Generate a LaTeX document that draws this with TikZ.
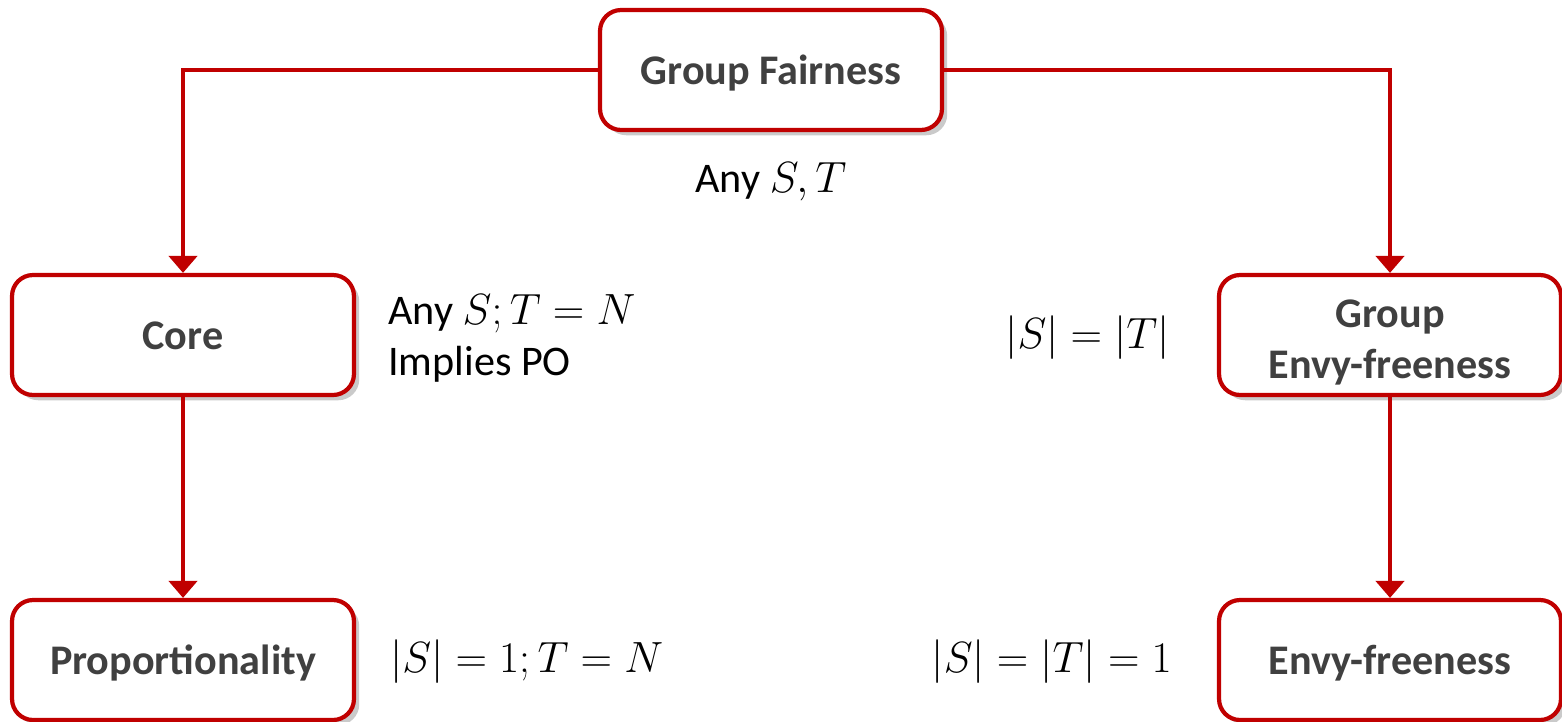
\documentclass[tikz,border=0pt]{standalone}
\usepackage{fontspec}
\setmainfont{Carlito}
\usetikzlibrary{arrows.meta,shadows}
\definecolor{boxred}{HTML}{C00000}
\definecolor{boxtext}{HTML}{404040}
\begin{document}
\begin{tikzpicture}[x=0.02cm,y=-0.02cm,
  box/.style={draw=boxred, line width=2.4pt, fill=white, rounded corners=0.42cm,
    minimum width=6.84cm, minimum height=2.4cm, align=center, inner sep=0pt,
    text=boxtext, font=\fontsize{24}{29}\selectfont\bfseries,
    execute at begin node={\rule{0pt}{23pt}},
    execute at end node={\rule[-6pt]{0pt}{0pt}},
    drop shadow={shadow xshift=3pt, shadow yshift=-3pt, opacity=0.35, fill=black!60}},
  conn/.style={draw=boxred, line width=2.6pt, -{Triangle[length=0.34cm,width=0.56cm]}},
  lab/.style={font=\fontsize{24}{29}\selectfont, inner sep=0pt, text=black}
]
\useasboundingbox (0,0) rectangle (1562,721);
\node[box] (gf) at (771,70) {Group Fairness};
\node[box] (core) at (183,335) {Core};
\node[box] (gef) at (1390,335) {\rule{0pt}{27pt}Group\\Envy-freeness};
\node[box] (prop) at (183,660) {Proportionality};
\node[box] (ef) at (1390,660) {Envy-freeness};

\draw[conn] (gf.west) -| (core.north);
\draw[conn] (gf.east) -| (gef.north);
\draw[conn] (core.south) -- (prop.north);
\draw[conn] (gef.south) -- (ef.north);

\node[lab] (l1) at (771,182) {Any $S,T$};
\node[lab, anchor=west, align=left] (l2) at (388,338) {Any $S;T=N$\\Implies PO};
\node[lab, anchor=east] (l3) at (1170,338) {$|S|=|T|$};
\node[lab, anchor=west] (l4) at (390,662) {$|S|=1;T=N$};
\node[lab, anchor=east] (l5) at (1172,662) {$|S|=|T|=1$};
\end{tikzpicture}
\end{document}
